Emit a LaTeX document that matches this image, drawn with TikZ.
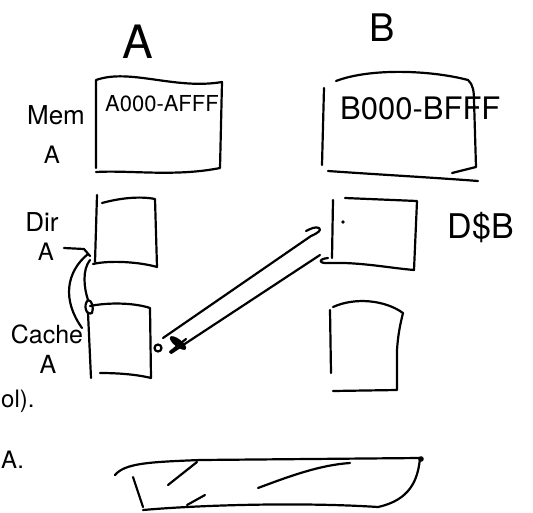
\documentclass[tikz,border=0pt]{standalone}
\usepackage{fontspec}
\setsansfont{TeX Gyre Heros}
\begin{document}
\begin{tikzpicture}[x=1pt,y=-1pt,
  pen/.style={line width=2.2pt, line cap=round, line join=round},
  hand/.style={inner sep=0pt, font=\sffamily\fontsize{#1}{#1}\selectfont},
  hand/.default=20]
\useasboundingbox (0,0) rectangle (533,512);

% column titles
\node[hand=46] (tA) at (138,42) {A};
\node[hand=38] (tB) at (382,28) {B};

% memory A
\draw[pen] (96,168) -- (96,80) .. controls (130,68) and (175,90) .. (222,82)
  -- (220,168) .. controls (175,177) and (130,170) .. (96,172);
\node[hand=22] (memAtxt) at (162,104) {A000-AFFF};
\node[hand=26] (memAlbl) at (56,115) {Mem};
\node[hand=24] (memAlbl2) at (52,155) {A};

% memory B
\draw[pen] (324,88) -- (322,165);
\draw[pen] (336,81) .. controls (370,68) and (430,70) .. (468,80)
  .. controls (473,84) and (474,92) .. (474,100) -- (476,167) -- (452,173);
\draw[pen] (328,171) .. controls (370,174) and (440,178) .. (478,181);
\node[hand=31,anchor=west] (memBtxt) at (340,108) {B000-BFFF};

% directory A
\draw[pen] (97,195) -- (95,262);
\draw[pen] (102,203) .. controls (120,198) and (140,196) .. (155,199)
  -- (157,267) .. controls (140,262) and (110,260) .. (93,264);
\node[hand=26] (dirAlbl) at (42,222) {Dir};
\node[hand=24] (dirAlbl2) at (46,252) {A};

% cache A
\draw[pen] (88,313) -- (91,378);
\draw[pen] (90,306) .. controls (110,302) and (135,303) .. (150,308)
  -- (151,378) .. controls (135,374) and (115,373) .. (100,373);
\node[hand=25] (cacheAlbl) at (47,334) {Cache};
\node[hand=25] (cacheAlbl2) at (48,364) {A};

% directory B
\draw[pen] (333,200) -- (332,258);
\draw[pen] (345,198) -- (417,201) -- (414,270)
  .. controls (390,268) and (360,262) .. (330,263)
  .. controls (318,264) and (318,259) .. (328,258);
\fill (343,222) circle (1.8);
\node[hand=34] (dirBlbl) at (481,228) {D\$B};

% cache B
\draw[pen] (330,310) -- (331,373);
\draw[pen] (333,307) .. controls (355,297) and (385,300) .. (403,313)
  .. controls (400,325) and (398,335) .. (397,350) -- (397,390) -- (333,391);

% anchor points for the connectors
\coordinate (cA1) at (163,338);
\coordinate (cA2) at (171,353);
\coordinate (dB1) at (311,236);
\coordinate (dB2) at (320,255);
\coordinate (cAtop) at (88,300);
\coordinate (cAlbl) at (82,328);
\coordinate (dAbot) at (88,254);

% pipe from cache A to directory B
\draw[pen] (cA1) -- (dB1) .. controls (318,233) and (322,230) .. (319,228)
  .. controls (316,226) and (310,229) .. (306,231);
\draw[pen] (cA2) -- (dB2);
\draw[pen] (158,348) circle (3.5);
\fill[rotate around={-38:(178,343)}] (178,343) ellipse (10 and 3.8);
\draw[pen] (170,352) -- (186,339);

% link between cache A and directory A
\draw[pen] (cAlbl) .. controls (62,300) and (66,272) .. (dAbot);
\draw[pen] (64,248) -- (84,249) -- (90,256);
\draw[pen] (dAbot) ++(2,6) .. controls (82,270) and (84,288) .. (cAtop);
\draw[pen] (cAtop) .. controls (83,305) and (86,316) .. (92,313)
  .. controls (94,308) and (92,300) .. (cAtop);

% bottom bar
\draw[pen] (115,475) .. controls (125,463) and (150,462) .. (200,460)
  -- (420,458) .. controls (418,480) and (410,500) .. (378,507)
  .. controls (300,502) and (200,505) .. (143,510);
\fill (421,459) circle (2.8);
\draw[pen] (133,477) -- (143,507);
\draw[pen] (168,485) -- (197,462);
\draw[pen] (258,488) .. controls (290,476) and (320,465) .. (350,463);
\draw[pen] (187,505) -- (205,495);

% text fragments along the left edge
\node[hand=24,anchor=west] (frag1) at (1,401) {ol).};
\node[hand=24,anchor=west] (frag2) at (1,460) {A.};
\end{tikzpicture}
\end{document}
